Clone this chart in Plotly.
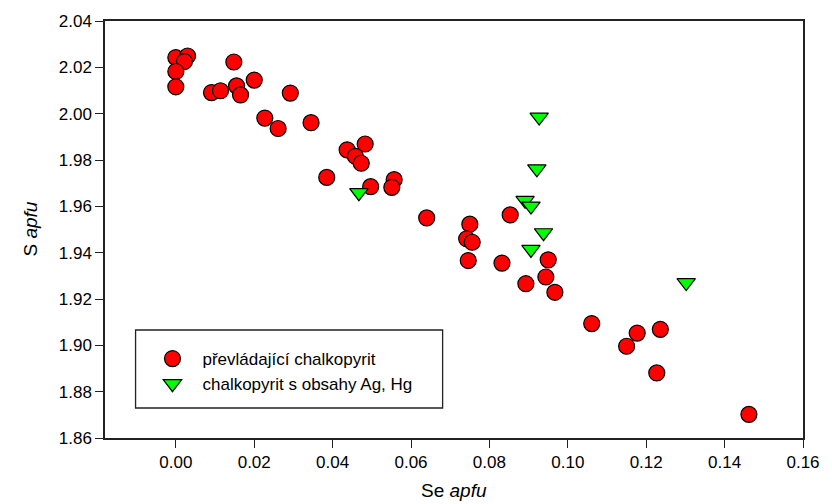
import plotly.graph_objects as go

# převládající chalkopyrit (red circles)
red_se = [0.000, 0.003, 0.0022, 0.000, 0.000, 0.0148, 0.0091, 0.0114, 0.0155, 0.0165,
          0.0200, 0.0292, 0.0227, 0.0261, 0.0345, 0.0437, 0.0483, 0.0458, 0.0473, 0.0385,
          0.0497, 0.0557, 0.0551, 0.0640, 0.0750, 0.0742, 0.0756, 0.0746, 0.0832, 0.0853,
          0.0950, 0.0944, 0.0893, 0.0967, 0.1061, 0.1177, 0.1150, 0.1236, 0.1227, 0.1462]
red_s = [2.0242, 2.0249, 2.0225, 2.0182, 2.0116, 2.0223, 2.0091, 2.0099, 2.0120, 2.0081,
         2.0145, 2.0089, 1.9981, 1.9936, 1.9961, 1.9844, 1.9869, 1.9816, 1.9786, 1.9725,
         1.9685, 1.9715, 1.9682, 1.9550, 1.9523, 1.9460, 1.9445, 1.9366, 1.9355, 1.9563,
         1.9369, 1.9295, 1.9266, 1.9229, 1.9094, 1.9053, 1.8996, 1.9069, 1.8881, 1.8702]

# chalkopyrit s obsahy Ag, Hg (green triangles)
green_se = [0.0467, 0.0927, 0.0921, 0.0891, 0.0906, 0.0938, 0.0906, 0.1302]
green_s = [1.9659, 1.9985, 1.9762, 1.9626, 1.9601, 1.9486, 1.9414, 1.9271]

x_ticks = [0.00, 0.02, 0.04, 0.06, 0.08, 0.10, 0.12, 0.14, 0.16]
y_ticks = [1.86, 1.88, 1.90, 1.92, 1.94, 1.96, 1.98, 2.00, 2.02, 2.04]

FONT = "Liberation Sans, Arial, sans-serif"

fig = go.Figure()
fig.add_trace(go.Scatter(
    x=red_se, y=red_s, mode="markers", name="převládající chalkopyrit", legendgroup="a",
    marker=dict(symbol="circle", size=16, color="#ff0000", line=dict(color="black", width=1.2)),
))
fig.add_trace(go.Scatter(
    x=green_se, y=green_s, mode="markers", name="chalkopyrit s obsahy Ag, Hg", legendgroup="b",
    marker=dict(symbol="triangle-down", size=16, color="#00ff00", line=dict(color="black", width=1.2)),
))

axis_common = dict(
    showgrid=False, zeroline=False, showline=True, linecolor="#222222", linewidth=1.5,
    mirror=True, ticks="outside", ticklen=8, tickcolor="#222222", tickwidth=1.2,
    tickfont=dict(family=FONT, size=17, color="black"),
)

fig.update_xaxes(range=[-0.01807, 0.16], tickvals=x_ticks,
                 ticktext=[f"{v:.2f}" for v in x_ticks], **axis_common)
fig.update_yaxes(range=[1.86, 2.04], tickvals=y_ticks,
                 ticktext=[f"{v:.2f}" for v in y_ticks], **axis_common)

fig.update_layout(
    width=832, height=504,
    margin=dict(l=105, r=20, t=21, b=66),
    plot_bgcolor="white", paper_bgcolor="white",
    showlegend=True,
    legend=dict(
        x=0.0537, y=0.2326, xanchor="left", yanchor="top",
        borderwidth=0, bgcolor="rgba(0,0,0,0)",
        font=dict(family=FONT, size=17, color="black"),
        tracegroupgap=0, itemwidth=50,
    ),
    shapes=[dict(type="rect", xref="paper", yref="paper",
                 x0=0.0438, x1=0.4837, y0=0.0719, y1=0.259,
                 line=dict(color="#222222", width=1.3), fillcolor="rgba(0,0,0,0)", layer="below")],
    annotations=[
        dict(text="Se <i>apfu</i>", xref="paper", yref="paper", x=0.5, y=0, yshift=-52,
             xanchor="center", yanchor="middle", showarrow=False,
             font=dict(family=FONT, size=19, color="black")),
        dict(text="S <i>apfu</i>", xref="paper", yref="paper", x=0, y=0.5, xshift=-75,
             xanchor="center", yanchor="middle", showarrow=False, textangle=-90,
             font=dict(family=FONT, size=19, color="black")),
    ],
)

fig.write_html("out.html", config={"displayModeBar": False},
               post_script="document.body.style.margin='0';document.body.style.overflow='hidden';")
